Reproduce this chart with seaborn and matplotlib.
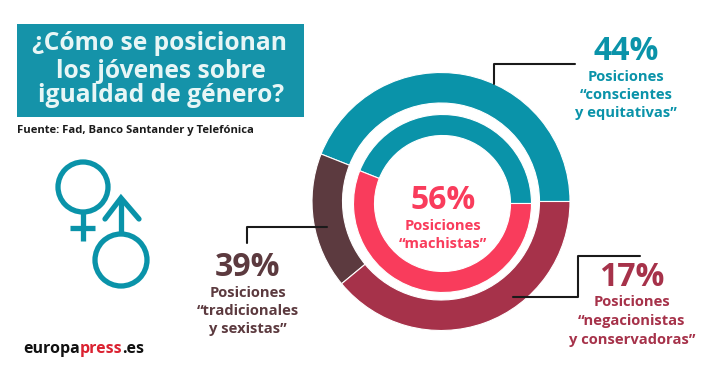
import matplotlib
matplotlib.use("Agg")
import matplotlib.pyplot as plt
from matplotlib.patches import Rectangle, Circle
import seaborn as sns

sns.set_theme(style="white")
plt.rcParams['font.family'] = ['Open Sans', 'DejaVu Sans']

TITLE = ["¿Cómo se posicionan", "los jóvenes sobre", "igualdad de género?"]
SOURCE = "Fuente: Fad, Banco Santander y Telefónica"
outer_names = ["conscientes y equitativas", "tradicionales y sexistas", "negacionistas y conservadoras"]
outer_values = [44, 17, 39]
inner_names = ["conscientes", "machistas"]
inner_values = [44, 56]

TEAL = "#0A93A9"; BROWN = "#5C3A3F"; WINE = "#A6324A"; PINK = "#F93C5C"

fig = plt.figure(figsize=(7.2, 3.71), dpi=100, facecolor="white")
ax = fig.add_axes([0, 0, 1, 1])
Y = lambda py: 371 - py

ax.pie(outer_values, colors=[TEAL, BROWN, WINE], startangle=0, counterclock=True,
       center=(441, Y(201.5)), radius=129, frame=True,
       wedgeprops=dict(width=30.5, edgecolor="white", linewidth=0.8))
ax.pie(inner_values, colors=[TEAL, PINK], startangle=0, counterclock=True,
       center=(442.5, Y(203.5)), radius=89, frame=True,
       wedgeprops=dict(width=21, edgecolor="white", linewidth=0.8))
ax.set_xlim(0, 720); ax.set_ylim(0, 371)
ax.set_aspect("auto")
ax.axis("off")

ax.add_patch(Rectangle((17, Y(117)), 287, 93, color="#1593A9", lw=0))
for (tx, py), line in zip([(159, 44), (161, 71), (161.5, 96)], TITLE):
    ax.text(tx, Y(py), line, color="#E8F6F6", fontsize=17.7, fontweight="bold", ha="center", va="center")
ax.text(17, Y(131), SOURCE, color="#1b1b1b", fontsize=8.1, fontweight="bold", ha="left", va="center")

# gender symbols
ax.add_patch(Circle((83, Y(187)), 25, fill=False, ec=TEAL, lw=3.8))
ax.plot([83, 83], [Y(210), Y(241)], color=TEAL, lw=3.8, solid_capstyle="butt")
ax.plot([70, 95], [Y(228), Y(228)], color=TEAL, lw=3.8, solid_capstyle="butt")
ax.add_patch(Circle((121, Y(260)), 26, fill=False, ec=TEAL, lw=3.8))
ax.plot([121, 121], [Y(200), Y(234)], color=TEAL, lw=3.8, solid_capstyle="butt")
ax.plot([105, 121, 139], [Y(219), Y(198), Y(219)], color=TEAL, lw=3.8, solid_joinstyle="miter")

# leaders
LC = "#1a1a1a"
ax.plot([494, 494, 575], [Y(84), Y(64), Y(64)], color=LC, lw=1.5)
ax.plot([513, 578, 578, 640], [Y(297), Y(297), Y(256), Y(256)], color=LC, lw=1.5)
ax.plot([247, 247, 327], [Y(243), Y(227), Y(227)], color=LC, lw=1.5)

def block(x, y0, pct, lines, color, step=18, first=25):
    ax.text(x, Y(y0), pct, color=color, fontsize=23, fontweight="bold", ha="center", va="center")
    for i, l in enumerate(lines):
        ax.text(x, Y(y0 + first + i * step), l, color=color, fontsize=10.6, fontweight="bold", ha="center", va="center")

block(443, 200.5, "56%", ["Posiciones", "“machistas”"], PINK)
block(626, 52, "44%", ["Posiciones", "“conscientes", "y equitativas”"], TEAL)
block(632, 277, "17%", ["Posiciones", "“negacionistas", "y conservadoras”"], WINE, step=19)
block(248, 267, "39%", ["Posiciones", "“tradicionales", "y sexistas”"], BROWN, first=26)

t = ax.text(23, Y(349), "europa", color="#111111", fontsize=11.5, fontweight="bold", ha="left", va="center")
fig.canvas.draw()
bb = t.get_window_extent()
t2 = ax.text(bb.x1, Y(349), "press", color="#DB2231", fontsize=11.5, fontweight="bold", ha="left", va="center")
bb2 = t2.get_window_extent()
ax.text(bb2.x1, Y(349), ".es", color="#111111", fontsize=11.5, fontweight="bold", ha="left", va="center")

fig.savefig("out.png", dpi=100, facecolor="white")
